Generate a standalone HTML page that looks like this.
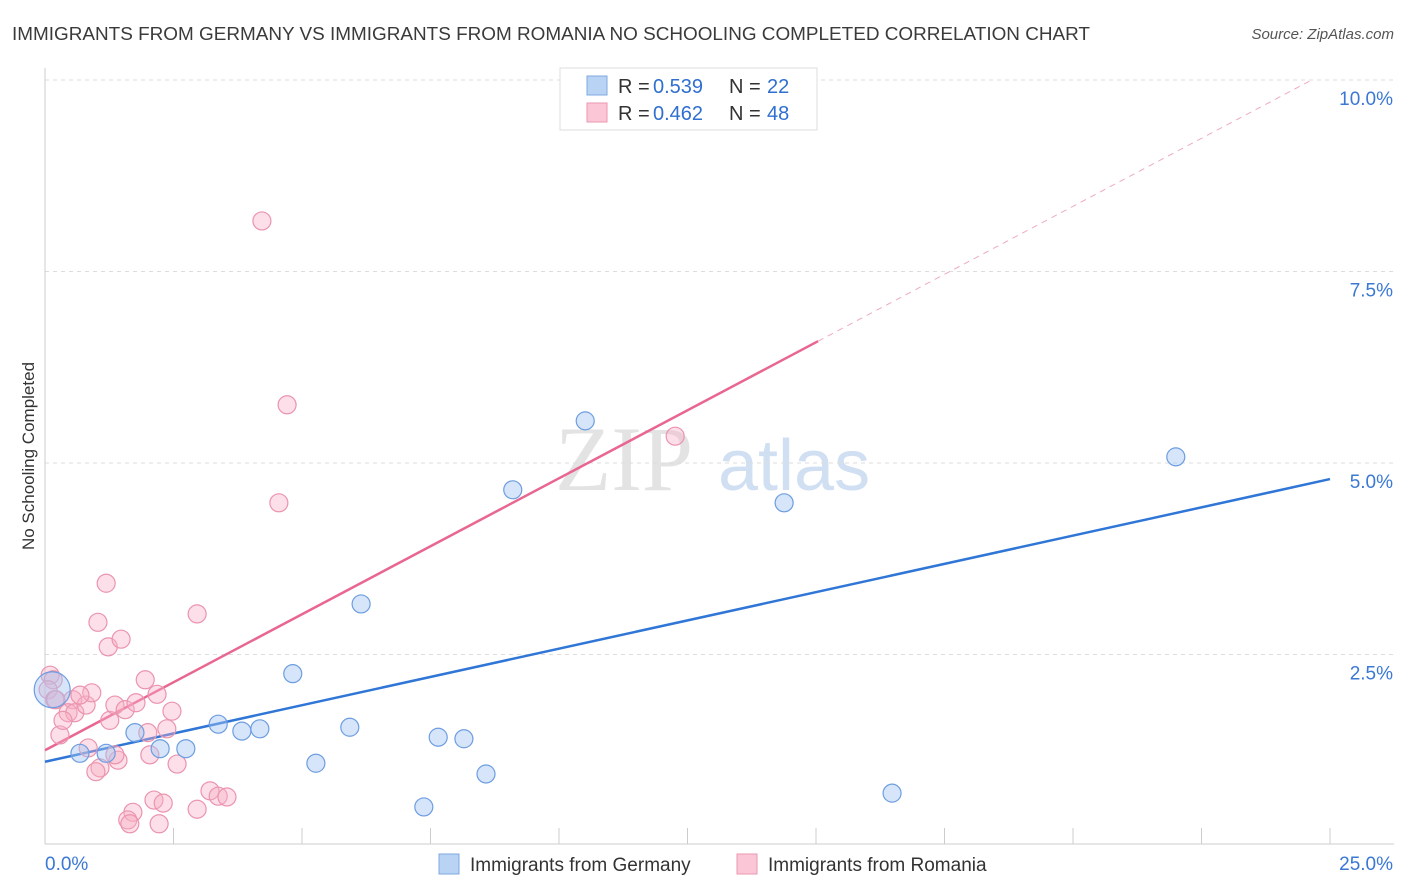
<!DOCTYPE html>
<html><head><meta charset="utf-8"><style>
body{margin:0;background:#fff;font-family:"Liberation Sans",sans-serif;}
svg{display:block}
</style></head><body>
<svg id="chart" width="1406" height="892" xmlns="http://www.w3.org/2000/svg">
<text x="12" y="40" font-size="18" fill="#3a3a3a" textLength="1078" lengthAdjust="spacingAndGlyphs">IMMIGRANTS FROM GERMANY VS IMMIGRANTS FROM ROMANIA NO SCHOOLING COMPLETED CORRELATION CHART</text>
<text x="1394" y="39" font-size="15" fill="#555" font-style="italic" text-anchor="end">Source: ZipAtlas.com</text>
<text transform="translate(34,456) rotate(-90)" font-size="17" fill="#333" text-anchor="middle">No Schooling Completed</text>
<g>
<text x="555" y="490" font-size="92" fill="#ddd" font-family="Liberation Serif,serif" opacity="0.8">ZIP</text>
<text x="718" y="490" font-size="72" fill="#c5d8f0" opacity="0.8">atlas</text>
</g>
<g id="grid"></g><g id="axes"></g><g id="trend"></g><g id="pts"></g>
<g>
<rect x="560" y="68" width="257" height="62" fill="#fff" stroke="#ddd"/>
<rect x="587" y="76" width="20" height="19" fill="#b9d3f5" stroke="#7ea8e0"/>
<rect x="587" y="103" width="20" height="19" fill="#fbc7d6" stroke="#ec97b1"/>
<text x="618" y="93" font-size="20" fill="#333">R =</text><text x="653" y="93" font-size="20" fill="#2f6fd0">0.539</text>
<text x="729" y="93" font-size="20" fill="#333">N =</text><text x="767" y="93" font-size="20" fill="#2f6fd0">22</text>
<text x="618" y="120" font-size="20" fill="#333">R =</text><text x="653" y="120" font-size="20" fill="#2f6fd0">0.462</text>
<text x="729" y="120" font-size="20" fill="#333">N =</text><text x="767" y="120" font-size="20" fill="#2f6fd0">48</text>
</g>
<g>
<rect x="439" y="854" width="20" height="20" fill="#b9d3f5" stroke="#7ea8e0"/>
<text x="470" y="871" font-size="19" fill="#333">Immigrants from Germany</text>
<rect x="737" y="854" width="20" height="20" fill="#fbc7d6" stroke="#ec97b1"/>
<text x="768" y="871" font-size="19" fill="#333">Immigrants from Romania</text>
</g>
</svg>
<script>
const yTicks=[2.5,5.0,7.5,10.0];
const xTickVals=[0,2.5,5,7.5,10,12.5,15,17.5,20,22.5,25];
const germanyX=[0.14,0.68,1.19,1.75,2.24,2.74,3.37,3.83,4.18,4.82,5.27,5.93,6.15,7.37,7.65,8.15,8.58,9.10,10.51,14.38,16.48,22.00];
const germanyY=[2.04,1.21,1.21,1.48,1.27,1.27,1.59,1.50,1.53,2.25,1.08,1.55,3.16,0.51,1.42,1.40,0.94,4.65,5.55,4.48,0.69,5.08];
const romaniaX=[1.19,1.03,1.23,1.48,2.96,4.22,4.71,4.55,12.26,0.10,0.16,0.06,0.19,0.54,0.45,0.58,0.29,0.35,0.80,0.91,0.68,1.26,1.36,1.56,1.77,1.95,2.18,2.47,2.37,2.00,2.04,1.42,1.07,0.99,0.84,2.57,2.12,2.30,1.71,1.61,1.65,2.22,2.96,3.21,3.37,3.54,0.21,1.36];
const romaniaY=[3.43,2.92,2.60,2.70,3.03,8.16,5.76,4.48,5.35,2.23,2.17,2.04,1.91,1.91,1.74,1.74,1.45,1.64,1.84,2.00,1.97,1.64,1.84,1.78,1.87,2.17,1.98,1.76,1.53,1.48,1.19,1.12,1.02,0.97,1.28,1.07,0.60,0.56,0.44,0.34,0.29,0.29,0.48,0.72,0.65,0.64,1.91,1.19];
const germanyTrend=[1.10,4.79];
const romaniaTrend=[1.25,0.2];
const NS='http://www.w3.org/2000/svg';
const X=v=>45+v/25*1285, Y=v=>846-v*76.6;
function mk(p,t,a){const e=document.createElementNS(NS,t);for(const k in a)e.setAttribute(k,a[k]);document.getElementById(p).appendChild(e);return e;}
yTicks.forEach(t=>{
 const l=mk('grid','line',{x1:45,x2:1394,y1:Y(t),y2:Y(t),stroke:'#ddd','stroke-dasharray':'4,4'});
 
 
 const tx=mk('grid','text',{x:1393,y:Y(t)+25,'font-size':19,fill:'#3a78d4','text-anchor':'end'});tx.textContent=t.toFixed(1)+'%';
 
 
});
mk('axes','line',{x1:45,x2:45,y1:68,y2:844,stroke:'#ccc'});
mk('axes','line',{x1:45,x2:1394,y1:844,y2:844,stroke:'#ccc'});
xTickVals.forEach(t=>{const l=mk('axes','line',{x1:X(t),x2:X(t),y1:828,y2:844,stroke:'#ccc'});
 
 });
const x0=mk('axes','text',{x:45,y:870,'font-size':19,fill:'#3a78d4'});x0.textContent='0.0%';


const x1=mk('axes','text',{x:1393,y:870,'font-size':19,fill:'#3a78d4','text-anchor':'end'});x1.textContent='25.0%';


const gl=mk('trend','line',{x1:X(0),y1:Y(germanyTrend[0]),x2:X(25),y2:Y(germanyTrend[1]),stroke:'#2f76d6','stroke-width':2.5});


const slope=(6.59-romaniaTrend[0])/15.04;
const rl=mk('trend','line',{x1:X(0),y1:Y(romaniaTrend[0]),x2:X(15.04),y2:Y(romaniaTrend[0]+slope*15.04),stroke:'#e8668f','stroke-width':2.5});


const rd=mk('trend','line',{x1:X(15.04),y1:Y(romaniaTrend[0]+slope*15.04),x2:X(24.6),y2:Y(romaniaTrend[0]+slope*24.6),stroke:'#eeaabf','stroke-width':1,'stroke-dasharray':'6,5'});


romaniaX.forEach((v,i)=>{const c=mk('pts','circle',{cx:X(v),cy:Y(romaniaY[i]),r:9,fill:'rgba(248,175,198,0.4)',stroke:'#eb94ae','stroke-width':1.2});
 
 });
germanyX.forEach((v,i)=>{const c=mk('pts','circle',{cx:X(v),cy:Y(germanyY[i]),r:i===0?18:9,fill:'rgba(165,198,242,0.45)',stroke:'#6d9de0','stroke-width':1.2});
 
 });
</script>
</body></html>
